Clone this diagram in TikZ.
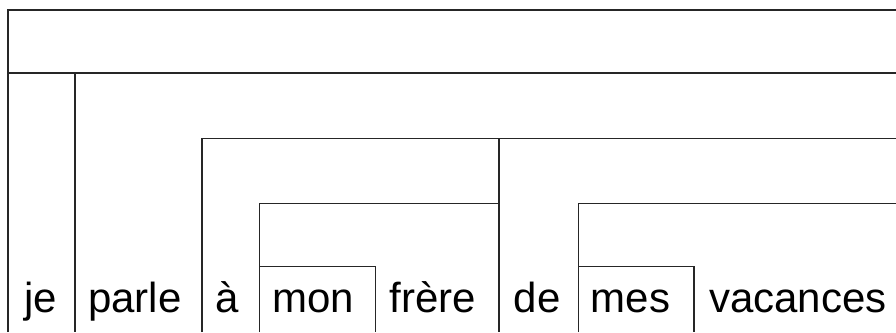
\documentclass[tikz,border=0pt]{standalone}
\usepackage{fontspec}
\setmainfont{Liberation Sans}
\begin{document}
\begin{tikzpicture}[x=1pt,y=-1pt,
  box/.style={line width=1.4pt,draw=black!85},
  word/.style={anchor=base west,inner sep=0pt,font=\fontsize{42}{50}\selectfont}]
\useasboundingbox (0,0) rectangle (896,332);
\path[fill=white] (0,0) rectangle (896,332);
% coordinates
\coordinate (tl) at (8,10);
\coordinate (tr) at (896,10);
\coordinate (bl) at (8,332);
% lines
\draw[box] (bl) -- (tl) -- (tr);
\draw[box] (8,73) -- (896,73);
\draw[box] (75,73) -- (75,332);
\draw[box] (202,332) -- (202,138.3) -- (896,138.3);
\draw[box] (499,138.3) -- (499,332);
\draw[box] (259.5,332) -- (259.5,203.3) -- (499,203.3);
\draw[box] (578.5,332) -- (578.5,203.3) -- (896,203.3);
\draw[box] (259.5,266.7) -- (375.5,266.7) -- (375.5,332);
\draw[box] (578.5,266.7) -- (694,266.7) -- (694,332);
% words
\node[word] (je) at (24,312.7) {je};
\node[word] (parle) at (88,312.7) {parle};
\node[word] (a) at (215.5,312.7) {à};
\node[word] (mon) at (272,312.7) {mon};
\node[word] (frere) at (389.5,312.7) {frère};
\node[word] (de) at (513.5,312.7) {de};
\node[word] (mes) at (590.5,312.7) {mes};
\node[word] (vacances) at (709,312.7) {vacances};
\end{tikzpicture}
\end{document}
